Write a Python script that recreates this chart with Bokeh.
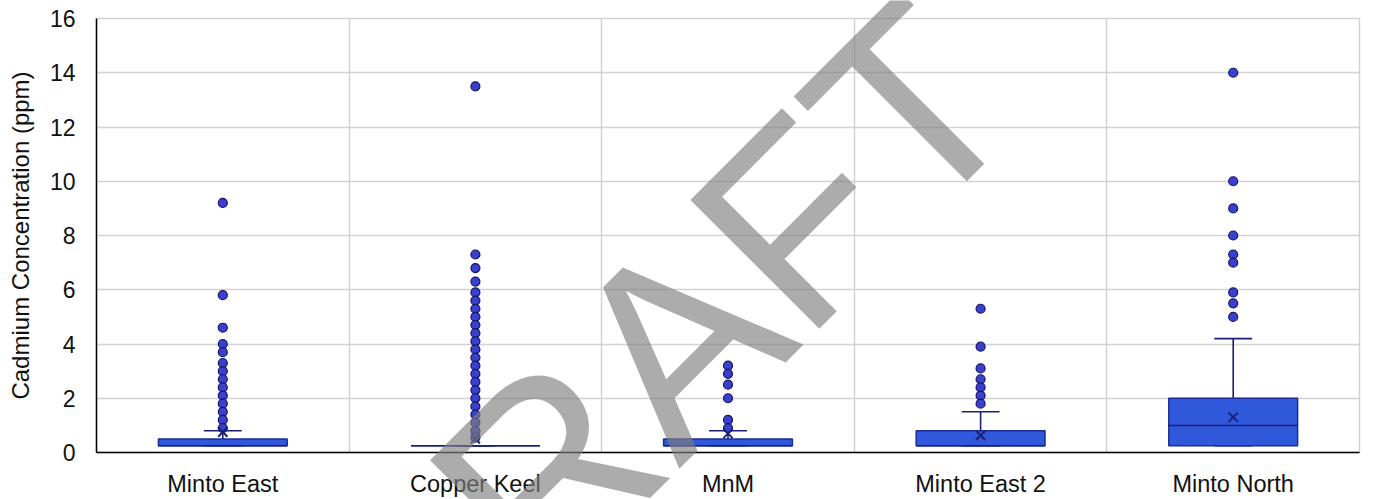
from bokeh.plotting import figure
from bokeh.models import Range1d, FixedTicker, Label, GridBox, Column
from bokeh.embed import file_html
from bokeh.resources import INLINE

categories = ["Minto East", "Copper Keel", "MnM", "Minto East 2", "Minto North"]
q1 = [0.25, 0.25, 0.25, 0.25, 0.25]
q3 = [0.5, 0.25, 0.5, 0.8, 2.0]
median = [0.25, 0.25, 0.25, 0.25, 1.0]
whisker_low = [0.25, 0.25, 0.25, 0.25, 0.25]
whisker_high = [0.8, 0.25, 0.8, 1.5, 4.2]
means = [0.75, 0.5, 0.7, 0.63, 1.3]

outliers_minto_east = [9.2, 5.8, 4.6, 4.0, 3.7, 3.3, 3.0, 2.7, 2.4, 2.1, 1.8, 1.5, 1.2, 0.9]
outliers_copper_keel = [13.5, 7.3, 6.8, 6.3, 5.9, 5.6, 5.3, 5.0, 4.7, 4.4, 4.1, 3.8, 3.5,
                        3.2, 2.9, 2.6, 2.3, 2.0, 1.7, 1.4, 1.1, 0.8, 0.55]
outliers_mnm = [3.2, 2.9, 2.5, 2.0, 1.2, 0.9]
outliers_minto_east2 = [5.3, 3.9, 3.1, 2.7, 2.4, 2.1, 1.8]
outliers_minto_north = [14.0, 10.0, 9.0, 8.0, 7.3, 7.0, 5.9, 5.5, 5.0]

y_ticks = [0, 2, 4, 6, 8, 10, 12, 14, 16]

all_outliers = [outliers_minto_east, outliers_copper_keel, outliers_mnm,
                outliers_minto_east2, outliers_minto_north]

W, H = 1370, 499
xc = [i + 0.5 for i in range(len(categories))]
box_w = 0.51
cap_w = 0.15

p = figure(width=W, height=H, output_backend="svg", toolbar_location=None,
           x_range=Range1d(0, 5), y_range=Range1d(0, 16),
           min_border_left=96, min_border_top=18, min_border_right=11, min_border_bottom=47)
p.background_fill_color = "white"
p.border_fill_color = "white"
p.outline_line_color = "#d2d2d2"
p.outline_line_width = 1.5

# grids
p.xgrid.ticker = FixedTicker(ticks=[1, 2, 3, 4])
p.xgrid.grid_line_color = "#d2d2d2"
p.xgrid.grid_line_width = 1.5
p.ygrid.ticker = FixedTicker(ticks=y_ticks)
p.ygrid.grid_line_color = "#d2d2d2"
p.ygrid.grid_line_width = 1.5

# axes
p.xaxis.ticker = FixedTicker(ticks=xc)
p.xaxis.major_label_overrides = {x: c for x, c in zip(xc, categories)}
p.yaxis.ticker = FixedTicker(ticks=y_ticks)
for ax in (p.xaxis[0], p.yaxis[0]):
    ax.axis_line_color = "black"
    ax.axis_line_width = 1.5
    ax.major_tick_line_color = None
    ax.minor_tick_line_color = None
    ax.major_label_text_color = "#111111"
    ax.major_label_text_font = "Liberation Sans"
p.xaxis.major_label_text_font_size = "23.5px"
p.yaxis.major_label_text_font_size = "23px"
p.xaxis.major_label_standoff = 12
p.yaxis.major_label_standoff = 15
p.yaxis.axis_label = "Cadmium Concentration (ppm)"
p.yaxis.axis_label_text_font = "Liberation Sans"
p.yaxis.axis_label_text_font_size = "24px"
p.yaxis.axis_label_text_font_style = "normal"
p.yaxis.axis_label_text_color = "#111111"
p.yaxis.axis_label_standoff = 13

dark = "#1b1f7a"

# whiskers
p.segment(x0=xc, y0=q3, x1=xc, y1=whisker_high, line_color=dark, line_width=1.6)
p.segment(x0=xc, y0=q1, x1=xc, y1=whisker_low, line_color=dark, line_width=1.6)
p.segment(x0=[x - cap_w / 2 for x in xc], y0=whisker_high,
          x1=[x + cap_w / 2 for x in xc], y1=whisker_high, line_color=dark, line_width=1.6)
p.segment(x0=[x - cap_w / 2 for x in xc], y0=whisker_low,
          x1=[x + cap_w / 2 for x in xc], y1=whisker_low, line_color=dark, line_width=1.6)

# boxes
p.vbar(x=xc, width=box_w, bottom=q1, top=q3, fill_color="#3058da",
       line_color="#1c2b95", line_width=1.5)
p.segment(x0=[x - box_w / 2 for x in xc], y0=median,
          x1=[x + box_w / 2 for x in xc], y1=median, line_color=dark, line_width=1.5)

# outliers
ox, oy = [], []
for x, vals in zip(xc, all_outliers):
    ox += [x] * len(vals)
    oy += vals
p.scatter(x=ox, y=oy, size=9, fill_color="#3a3fcc", line_color="#15166a", line_width=1.2)

# means
p.scatter(x=xc, y=means, marker="x", size=13, line_color=dark, line_width=2)

# watermark overlay (a transparent full-canvas figure in the same grid cell)
wmf = figure(width=W, height=H, output_backend="svg", toolbar_location=None,
             x_range=Range1d(0, W), y_range=Range1d(0, H),
             min_border=0, min_border_left=0, min_border_right=0,
             min_border_top=0, min_border_bottom=0)
wmf.axis.visible = False
wmf.grid.visible = False
wmf.outline_line_color = None
wmf.background_fill_color = None
wmf.border_fill_color = None
wm = Label(x=655, y=H - 362, text="DRAFT", angle=45, angle_units="deg",
           text_align="center", text_baseline="middle",
           text_font="Liberation Sans", text_font_size="265px",
           text_color="#7f7f7f", text_alpha=0.65)
wmf.add_layout(wm)

layout = GridBox(children=[(Column(children=[p]), 0, 0), (Column(children=[wmf]), 0, 0)])

open("out.html", "w").write(file_html(layout, INLINE))
